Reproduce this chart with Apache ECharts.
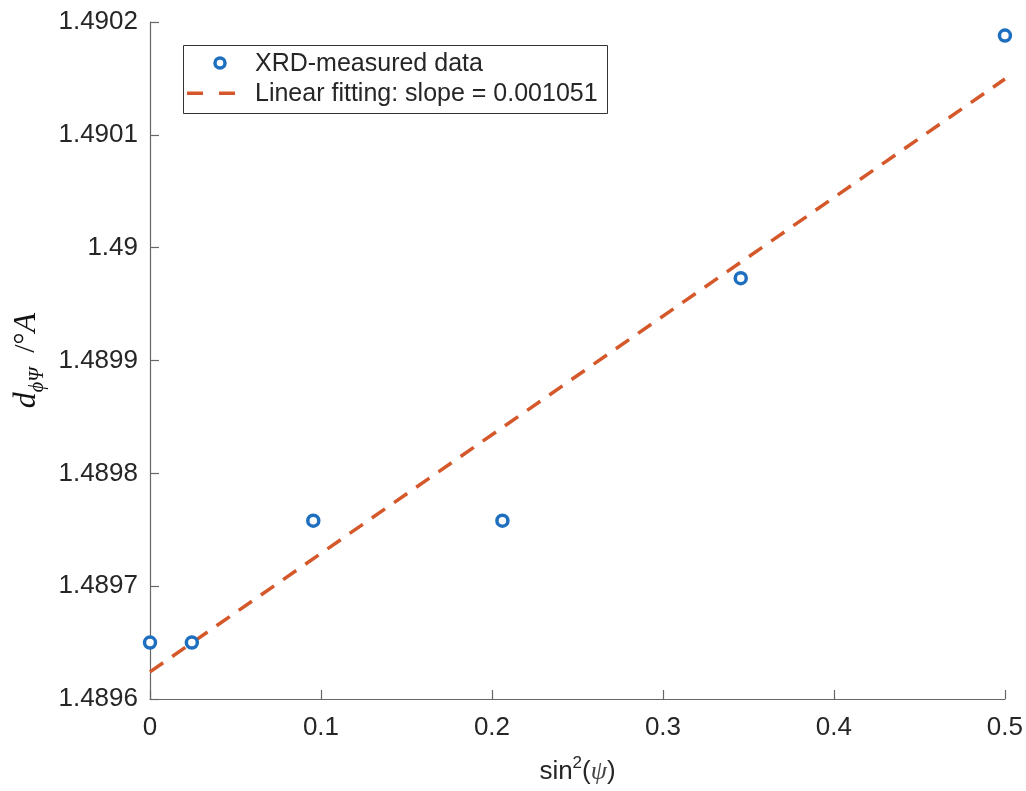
<!DOCTYPE html>
<html><head><meta charset="utf-8">
<script src="https://cdn.jsdelivr.net/npm/echarts@6/dist/echarts.min.js"></script>
<style>html,body{margin:0;padding:0;background:#fff}#c{width:1026px;height:791px}</style>
</head><body><div id="c"></div>
<script>
// data
const sin2Psi = [0, 0.02447, 0.09549, 0.20611, 0.34549, 0.5];
const dSpacing = [1.48965, 1.48965, 1.489758, 1.489758, 1.489973, 1.490188];
const fitX = [0, 0.5];
const fitY = [1.489624, 1.4901495];
const seriesNames = ['XRD-measured data', 'Linear fitting: slope = 0.001051'];
const xTicks = ['0', '0.1', '0.2', '0.3', '0.4', '0.5'];
const yTicks = ['1.4896', '1.4897', '1.4898', '1.4899', '1.49', '1.4901', '1.4902'];

const txt = '#262626';
const blue = '#1f6fc0';
const orange = '#d4582a';
const font = 'Liberation Sans, Arial, Helvetica, sans-serif';
const serif = 'Liberation Serif, DejaVu Serif, serif';
const chart = echarts.init(document.getElementById('c'), null, {renderer: 'canvas'});
chart.setOption({
  animation: false,
  backgroundColor: '#fff',
  grid: {left: 150, right: 17, top: 22, bottom: 92, containLabel: false},
  xAxis: {
    type: 'value', min: 0, max: 0.5, interval: 0.1,
    axisLine: {show: true, onZero: false, lineStyle: {color: '#666', width: 1.2}},
    axisTick: {show: true, inside: true, length: 9, lineStyle: {color: '#666', width: 1.2}},
    splitLine: {show: false},
    axisLabel: {fontSize: 26, color: txt, fontFamily: font, margin: 16,
      formatter: (v) => xTicks[Math.round(v * 10)]},
    name: '{a|sin}{sup|2}{a|(}{p|ψ}{a|)}',
    nameLocation: 'middle', nameGap: 56,
    nameTextStyle: {
      rich: {
        a: {fontSize: 26, color: txt, fontFamily: font, lineHeight: 34},
        sup: {fontSize: 17, color: txt, fontFamily: font, verticalAlign: 'top', lineHeight: 34},
        p: {fontSize: 26, color: '#444', fontFamily: serif, fontStyle: 'italic', lineHeight: 34}
      }
    }
  },
  yAxis: {
    type: 'value', min: 1.4896, max: 1.4902, interval: 0.0001,
    axisLine: {show: true, onZero: false, lineStyle: {color: '#666', width: 1.2}},
    axisTick: {show: true, inside: true, length: 9, lineStyle: {color: '#666', width: 1.2}},
    splitLine: {show: false},
    axisLabel: {fontSize: 26, color: txt, fontFamily: font, margin: 12,
      formatter: (v) => yTicks[Math.round((v - 1.4896) * 10000)]},
    name: '{d|d}{s|ϕΨ}{n|  /°}{d|A}',
    nameLocation: 'middle', nameRotate: 90, nameGap: 100,
    nameTextStyle: {
      rich: {
        d: {fontSize: 32, color: '#111', fontFamily: serif, fontStyle: 'italic', lineHeight: 42},
        s: {fontSize: 20, color: '#111', fontFamily: serif, fontStyle: 'italic', verticalAlign: 'bottom', lineHeight: 42},
        n: {fontSize: 30, color: '#111', fontFamily: serif, lineHeight: 42}
      }
    }
  },
  graphic: [
    {type: 'rect', left: 183, top: 45, z: 10,
      shape: {width: 424, height: 68}, style: {fill: '#fff', stroke: '#333', lineWidth: 1}},
    {type: 'circle', x: 220, y: 63, z: 11,
      shape: {r: 5}, style: {fill: '#fff', stroke: blue, lineWidth: 3.5}},
    {type: 'rect', x: 187, y: 91.5, z: 11, shape: {width: 16, height: 3.5}, style: {fill: orange}},
    {type: 'rect', x: 219, y: 91.5, z: 11, shape: {width: 16, height: 3.5}, style: {fill: orange}},
    {type: 'text', x: 255, y: 64, z: 11,
      style: {text: seriesNames[0], fontSize: 25, fontFamily: font, fill: txt, verticalAlign: 'middle'}},
    {type: 'text', x: 255, y: 94, z: 11,
      style: {text: seriesNames[1], fontSize: 25, fontFamily: font, fill: txt, verticalAlign: 'middle'}}
  ],
  series: [
    {
      name: seriesNames[0], type: 'scatter',
      data: sin2Psi.map((x, i) => [x, dSpacing[i]]),
      symbol: 'circle', symbolSize: 11,
      itemStyle: {color: '#fff', borderColor: blue, borderWidth: 3.5, opacity: 1},
      z: 3
    },
    {
      name: seriesNames[1], type: 'line',
      data: fitX.map((x, i) => [x, fitY[i]]),
      symbol: 'none',
      lineStyle: {color: orange, width: 3.5, type: [16, 11], cap: 'butt'},
      z: 2
    }
  ]
});
</script></body></html>
